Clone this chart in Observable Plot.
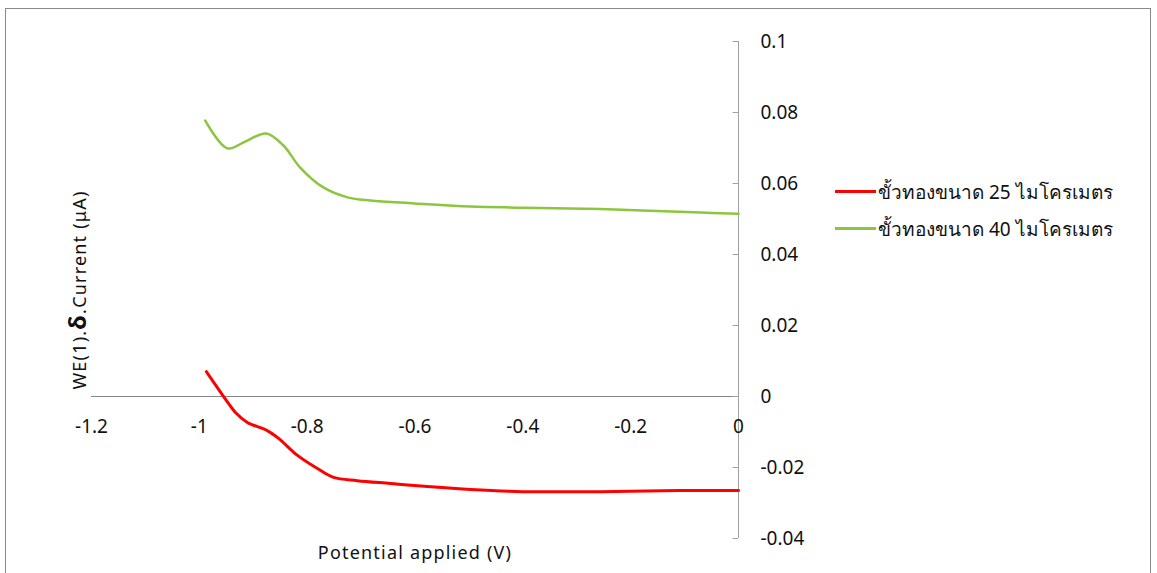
<!DOCTYPE html>
<html>
<head>
<meta charset="utf-8">
<script src="https://cdn.jsdelivr.net/npm/d3@7"></script>
<script src="https://cdn.jsdelivr.net/npm/@observablehq/plot@0.6"></script>
<style>
  html, body { margin: 0; padding: 0; background: #fff; }
  #wrap { position: relative; width: 1157px; height: 573px; overflow: hidden; font-family: "Noto Sans", "Open Sans", sans-serif; color: #111; }
  #frame { position: absolute; left: 5px; top: 8px; width: 1146px; height: 580px; border: 1.5px solid #8a8a8a; box-sizing: border-box; pointer-events: none; }
  #chart { position: absolute; left: 0; top: 0; }
  #ylabel { position: absolute; left: 76px; top: 290px; transform: translate(-50%, -50%) rotate(-90deg); white-space: nowrap; font-size: 18px; letter-spacing: 1.2px; }
  #ylabel b { font-size: 24px; }
  #xlabel { position: absolute; left: 415px; top: 552px; transform: translate(-50%, -50%); white-space: nowrap; font-size: 18px; letter-spacing: 1.2px; }
  #legend { position: absolute; left: 835px; top: 173px; font-size: 19px; }
  .item { display: flex; align-items: center; height: 37px; }
  .swatch { width: 41px; height: 3px; margin-right: 2px; }
</style>
</head>
<body>
<div id="wrap">
  <div id="chart"></div>
  <div id="ylabel">WE(1).<b>δ</b>.Current (μA)</div>
  <div id="xlabel">Potential applied (V)</div>
  <div id="legend"></div>
  <div id="frame"></div>
</div>
<script>
// Applied potential (V) and differential current (µA) for two gold electrodes
const seriesNames = ["ขั้วทองขนาด 25 ไมโครเมตร", "ขั้วทองขนาด 40 ไมโครเมตร"];
const seriesColors = ["#ff0000", "#8cc63e"];

const potential25 = [-0.987, -0.955, -0.933, -0.911, -0.874, -0.853, -0.818, -0.781, -0.751, -0.707, -0.646, -0.601, -0.497, -0.4, -0.256, -0.108, 0];
const current25   = [0.0070, 0.0, -0.0045, -0.0073, -0.0096, -0.0118, -0.0166, -0.0203, -0.0228, -0.0237, -0.0245, -0.0251, -0.0262, -0.0268, -0.0268, -0.0265, -0.0265];

const potential40 = [-0.989, -0.948, -0.915, -0.876, -0.844, -0.813, -0.770, -0.725, -0.683, -0.601, -0.497, -0.4, -0.256, -0.07, 0];
const current40   = [0.0777, 0.0699, 0.0718, 0.0741, 0.0707, 0.0645, 0.0589, 0.0561, 0.0552, 0.0544, 0.0535, 0.0532, 0.0528, 0.0518, 0.0515];

const xTicks = [-1.2, -1, -0.8, -0.6, -0.4, -0.2, 0];
const yTicks = [-0.04, -0.02, 0, 0.02, 0.04, 0.06, 0.08, 0.1];

const rows25 = potential25.map((x, i) => ({x, y: current25[i]}));
const rows40 = potential40.map((x, i) => ({x, y: current40[i]}));

const fmt = d => String(d);

const plot = Plot.plot({
  width: 1157,
  height: 573,
  marginLeft: 91,
  marginRight: 419,
  marginTop: 41,
  marginBottom: 35,
  style: {fontFamily: "'Noto Sans', 'Open Sans', sans-serif", fontSize: "18px", color: "#111", background: "transparent"},
  x: {domain: [-1.2, 0], axis: null},
  y: {domain: [-0.04, 0.1], axis: null},
  marks: [
    // horizontal axis crossing at zero current
    Plot.ruleY([0], {x1: -1.2, x2: 0, stroke: "#868686", strokeWidth: 1}),
    // vertical axis at zero potential
    Plot.ruleX([0], {y1: -0.04, y2: 0.1, stroke: "#a0a0a0", strokeWidth: 1}),
    Plot.ruleY(yTicks, {x1: -0.01, x2: 0, stroke: "#a0a0a0", strokeWidth: 1}),
    Plot.text(yTicks, {x: 0, y: d => d, text: fmt, dx: 22, textAnchor: "start", fill: "#111", fontSize: 19}),
    Plot.text(xTicks, {x: d => d, y: 0, text: fmt, dy: 30, fill: "#111", fontSize: 19}),
    Plot.line(rows40, {x: "x", y: "y", stroke: seriesColors[1], strokeWidth: 2.5, curve: "catmull-rom"}),
    Plot.line(rows25, {x: "x", y: "y", stroke: seriesColors[0], strokeWidth: 3, curve: "catmull-rom"})
  ]
});
document.getElementById("chart").appendChild(plot);

const legend = d3.select("#legend");
seriesNames.forEach((name, i) => {
  const item = legend.append("div").attr("class", "item");
  item.append("div").attr("class", "swatch").style("background", seriesColors[i]);
  item.append("span").text(name);
});
</script>
</body>
</html>
